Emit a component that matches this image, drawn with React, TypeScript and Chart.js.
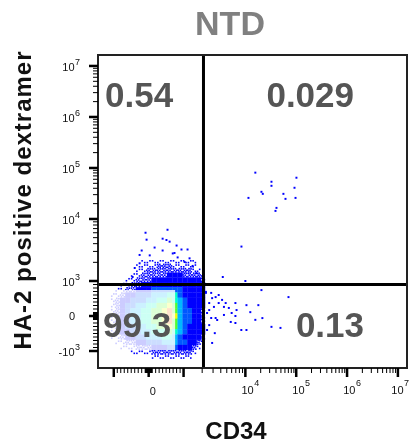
import React, { useEffect, useRef } from 'react';
import { Chart, registerables, LinearScale } from 'chart.js';

Chart.register(...registerables);

// ---------------- data ----------------
const TITLE = 'NTD';
const X_TITLE = 'CD34';
const Y_TITLE = 'HA-2 positive dextramer';

// quadrant frequencies (%): upper-left, upper-right, lower-left, lower-right
const quadrantLabels = ['0.54', '0.029', '99.3', '0.13'];

// quadrant gate position (fluorescence units)
const gateX = 2100;
const gateY = 900;

// axis ranges
const X_MIN = -1800;
const X_MAX = 15100000;
const Y_MIN = -1880;
const Y_MAX = 16400000;

// axis ticks
const xMajorTicks = [-1000, 0, 1000, 10000, 100000, 1000000, 10000000];
const xTickLabels = ['', '0', '', '10^4', '10^5', '10^6', '10^7'];
const yMajorTicks = [-1000, 0, 1000, 10000, 100000, 1000000, 10000000];
const yTickLabels = ['-10^3', '0', '10^3', '10^4', '10^5', '10^6', '10^7'];

// main population density (pseudocolor cells): cell centres and level 0-9
const cloudX = [-1350, -1200, -1050, -900, -750, -600, -450, -300, -150, 0, 150, 300, 450, 600, 750, 900, 1050, 1250, 1500, 1750, 2050];
const cloudY = [2050, 1750, 1500, 1250, 1050, 900, 750, 600, 450, 300, 150, 0, -150, -300, -450, -600, -750, -900, -1050, -1250];
const cloudDensity = [
  '000000001111111111100',
  '000000011112221111100',
  '000000011222222222110',
  '000000112222233322221',
  '000001122233333333332',
  '000011223333333333333',
  '000112233344444433333',
  '001123344455566433333',
  '001233444556676543333',
  '001234455667787543333',
  '001234556677897544332',
  '001234556677898544332',
  '001234556677897544332',
  '001234455667787543333',
  '001233445566676543333',
  '001123344555665433332',
  '000112233444555443321',
  '000011122233344333210',
  '000000111122222222100',
  '000000000011111111000',
];

// sparse events
const ulX = [-90, 540, -60, 400, 600, 170, 800, -200, 400, 940, 1160, 30, 690, 830, 1250, -260, 1610, -460, 510, -260, 740, 1040, -400, 1400];
const ulY = [6000, 6700, 4640, 4810, 4310, 3460, 3730, 3100, 3100, 3220, 3220, 2590, 2780, 2400, 2320, 1930, 1340, 1160, 4580, 2630, 2830, 2020, 1620, 1750];
const urX = [15700, 32600, 101000, 32600, 20700, 22000, 11500, 56000, 61500, 92500, 96900, 40900, 39100, 7740, 8640, 4310, 10000];
const urY = [81000, 53700, 64400, 44700, 34100, 31100, 25900, 31100, 24800, 40900, 25900, 16500, 14400, 10000, 3590, 1160, 1000];
const lrX = [2300, 2800, 3300, 3700, 2600, 3100, 4200, 4800, 5400, 6900, 7200, 10500, 2400, 2800, 3500, 4500, 6000, 6900, 8600, 10500, 12500, 15700, 18000, 20700, 21600, 32600, 49000, 70500, 2600, 3200, 2400, 2900, 2300, 2900, 3700, 4500, 6900, 5800, 2600, 3300];
const lrY = [690, 660, 540, 600, 370, 260, 460, 370, 230, 370, 170, 310, 86, -57, -114, 30, 86, -200, -400, -400, 110, -110, 310, 740, -60, -310, -340, 540, -260, -490, -400, -770, 660, 510, 370, 260, 0, -170, 170, -57];

// ---------------- biexponential-like scale ----------------
function biex(v: number): number {
  const a = Math.abs(v);
  const s = v < 0 ? -1 : 1;
  if (a <= 1000) return 0.035 * v;
  if (a <= 1e4) return s * (35 + 62 * Math.log10(a / 1000));
  return s * (97 + 51 * Math.log10(a / 1e4));
}
function biexInv(t: number): number {
  const a = Math.abs(t);
  const s = t < 0 ? -1 : 1;
  if (a <= 35) return t / 0.035;
  if (a <= 97) return s * 1000 * Math.pow(10, (a - 35) / 62);
  return s * 1e4 * Math.pow(10, (a - 97) / 51);
}

class BiexScale extends LinearScale {
  static id = 'biex';
  static defaults = {};
  _tMin = 0;
  _tMax = 1;
  configure() {
    super.configure();
    this._tMin = biex(this.min);
    this._tMax = biex(this.max);
  }
  getPixelForValue(value: number) {
    if (value === null || value === undefined || isNaN(value)) return NaN;
    return this.getPixelForDecimal((biex(value) - this._tMin) / (this._tMax - this._tMin));
  }
  getValueForPixel(pixel: number) {
    const t = this._tMin + this.getDecimalForPixel(pixel) * (this._tMax - this._tMin);
    return biexInv(t);
  }
}
Chart.register(BiexScale as any);

// ---------------- drawing helpers ----------------
const FONT = '"Liberation Sans", Arial, Helvetica, sans-serif';
const levelColors = ['', '#0000ff', '#0000ff', '#0000ff', '#0058ff', '#00b8ff', '#00ffc8', '#50ff30', '#f0ff00', '#ff7000'];
const dots1 = [[0.25, 0.3], [0.75, 0.72]];
const dots2 = [[0.2, 0.2], [0.62, 0.14], [0.42, 0.55], [0.86, 0.5], [0.15, 0.85], [0.7, 0.86]];

function cellEdges(p: number[]): [number, number][] {
  return p.map((v, i) => {
    const a = i > 0 ? (p[i - 1] + v) / 2 : v - (p[1] - p[0]) / 2;
    const b = i < p.length - 1 ? (p[i + 1] + v) / 2 : v + (v - p[i - 1]) / 2;
    return [Math.min(a, b), Math.max(a, b)];
  });
}

function minorTicks(): number[] {
  const out: number[] = [];
  for (let m = 1; m <= 9; m++) {
    out.push(m * 10, -m * 10, m * 100, -m * 100);
  }
  for (let n = 3; n <= 6; n++) {
    for (let m = 2; m <= 9; m++) {
      out.push(m * Math.pow(10, n), -m * Math.pow(10, n));
    }
  }
  return out;
}

function powWidth(ctx: CanvasRenderingContext2D, label: string) {
  const [base, exp] = label.split('^');
  ctx.font = `11px ${FONT}`;
  const wb = ctx.measureText(base).width;
  ctx.font = `9px ${FONT}`;
  const we = exp ? ctx.measureText(exp).width + 0.5 : 0;
  return { wb, we };
}

function drawPow(ctx: CanvasRenderingContext2D, label: string, left: number, yBase: number, yExp: number) {
  const [base, exp] = label.split('^');
  const { wb } = powWidth(ctx, label);
  ctx.textAlign = 'left';
  ctx.textBaseline = 'alphabetic';
  ctx.font = `11px ${FONT}`;
  ctx.fillText(base, left, yBase);
  if (exp) {
    ctx.font = `9px ${FONT}`;
    ctx.fillText(exp, left + wb + 0.5, yExp);
  }
}

const flowPlugin = {
  id: 'flowPlot',
  beforeDatasetsDraw(chart: any) {
    const { ctx, chartArea } = chart;
    const xs = chart.scales.x;
    const ys = chart.scales.y;
    const ex = cellEdges(cloudX.map((v) => xs.getPixelForValue(v)));
    const ey = cellEdges(cloudY.map((v) => ys.getPixelForValue(v)));
    ctx.save();
    ctx.beginPath();
    ctx.rect(chartArea.left, chartArea.top, chartArea.right - chartArea.left, chartArea.bottom - chartArea.top);
    ctx.clip();
    cloudDensity.forEach((row, r) => {
      for (let c = 0; c < row.length; c++) {
        const lvl = +row[c];
        if (!lvl) continue;
        const [x0, x1] = ex[c];
        const [y0, y1] = ey[r];
        const w = x1 - x0;
        const h = y1 - y0;
        if (lvl <= 2) {
          ctx.fillStyle = '#0000ff';
          const pat = lvl === 1 ? dots1 : dots2;
          const flip = (r + c) % 2 === 1;
          pat.forEach(([fx, fy]) => {
            const ux = flip ? 1 - fx : fx;
            ctx.fillRect(x0 + ux * w - 0.8, y0 + fy * h - 0.8, 1.6, 1.6);
          });
        } else {
          ctx.fillStyle = levelColors[lvl];
          ctx.fillRect(x0, y0, w + 0.3, h + 0.3);
        }
      }
    });
    ctx.restore();
  },
  afterDatasetsDraw(chart: any) {
    const { ctx, chartArea } = chart;
    const xs = chart.scales.x;
    const ys = chart.scales.y;
    const L = chartArea.left, R = chartArea.right, T = chartArea.top, B = chartArea.bottom;

    // quadrant labels with translucent boxes
    ctx.save();
    ctx.font = `bold 35px ${FONT}`;
    const specs: [string, number, number, 'left' | 'right'][] = [
      [quadrantLabels[0], L + 7, T + 52, 'left'],
      [quadrantLabels[1], R - 53, T + 52, 'right'],
      [quadrantLabels[2], L + 5, B - 31, 'left'],
      [quadrantLabels[3], R - 43, B - 31, 'right'],
    ];
    specs.forEach(([txt, x, y, align]) => {
      const w = ctx.measureText(txt).width;
      const left = align === 'left' ? x : x - w;
      ctx.fillStyle = 'rgba(255,255,255,0.8)';
      ctx.fillRect(left - 5, y - 47, w + 9, 60);
    });
    ctx.fillStyle = '#555555';
    ctx.textBaseline = 'alphabetic';
    specs.forEach(([txt, x, y, align]) => {
      ctx.textAlign = align;
      ctx.fillText(txt, x, y);
    });

    // gate lines
    const gx = xs.getPixelForValue(gateX);
    const gy = ys.getPixelForValue(gateY);
    ctx.strokeStyle = '#000';
    ctx.lineWidth = 3;
    ctx.beginPath();
    ctx.moveTo(gx, T);
    ctx.lineTo(gx, B);
    ctx.moveTo(L, gy);
    ctx.lineTo(R, gy);
    ctx.stroke();

    // frame
    ctx.lineWidth = 2;
    ctx.strokeStyle = '#222';
    ctx.strokeRect(L, T, R - L, B - T);
    ctx.restore();
  },
  afterDraw(chart: any) {
    const { ctx, chartArea } = chart;
    const xs = chart.scales.x;
    const ys = chart.scales.y;
    const L = chartArea.left, B = chartArea.bottom;
    const minors = minorTicks();
    ctx.save();
    ctx.fillStyle = '#000';
    // y ticks
    minors.forEach((v) => {
      if (v < ys.min || v > ys.max) return;
      const y = ys.getPixelForValue(v);
      ctx.fillRect(L - 5, y - 0.5, 5, 1);
    });
    yMajorTicks.forEach((v) => {
      const y = ys.getPixelForValue(v);
      ctx.fillRect(L - 9, y - 1.25, 9, 2.5);
    });
    // x ticks
    minors.forEach((v) => {
      if (v < xs.min || v > xs.max) return;
      const x = xs.getPixelForValue(v);
      ctx.fillRect(x - 0.5, B, 1, 5);
    });
    xMajorTicks.forEach((v) => {
      const x = xs.getPixelForValue(v);
      ctx.fillRect(x - 1.25, B, 2.5, 9);
    });

    // y tick labels
    ctx.fillStyle = '#111';
    yMajorTicks.forEach((v, i) => {
      const lab = yTickLabels[i];
      if (!lab) return;
      const y = ys.getPixelForValue(v);
      if (lab.includes('^')) {
        const { wb, we } = powWidth(ctx, lab);
        drawPow(ctx, lab, L - 18 - wb - we, y + 5, y - 1);
      } else {
        ctx.font = `11px ${FONT}`;
        ctx.textAlign = 'right';
        ctx.textBaseline = 'alphabetic';
        ctx.fillText(lab, L - 23, y + 4);
      }
    });
    // x tick labels
    xMajorTicks.forEach((v, i) => {
      const lab = xTickLabels[i];
      if (!lab) return;
      const x = xs.getPixelForValue(v);
      if (lab.includes('^')) {
        const { wb, we } = powWidth(ctx, lab);
        const total = wb + we;
        const left = Math.min(x + 5 - total / 2, chart.width - 2 - total);
        drawPow(ctx, lab, left, B + 26, B + 18);
      } else {
        ctx.font = `11px ${FONT}`;
        ctx.textAlign = 'left';
        ctx.textBaseline = 'alphabetic';
        ctx.fillText(lab, x + 1, B + 27);
      }
    });

    // title
    ctx.fillStyle = '#808080';
    ctx.font = `bold 34px ${FONT}`;
    ctx.textAlign = 'center';
    ctx.textBaseline = 'alphabetic';
    ctx.fillText(TITLE, 230, 35);

    // axis titles
    ctx.fillStyle = '#111';
    ctx.font = `bold 24px ${FONT}`;
    ctx.fillText(X_TITLE, 236, 439);
    ctx.save();
    ctx.translate(31, 200);
    ctx.rotate(-Math.PI / 2);
    (ctx as any).letterSpacing = '1px';
    ctx.fillText(Y_TITLE, 0, 0);
    ctx.restore();
    ctx.restore();
  },
};

function pts(xs: number[], ys: number[]) {
  return xs.map((x, i) => ({ x, y: ys[i] }));
}

export default function App() {
  const ref = useRef<HTMLCanvasElement>(null);
  useEffect(() => {
    const pointStyle = {
      pointStyle: 'rect' as const,
      pointRadius: 1.4,
      pointBackgroundColor: '#0000ff',
      pointBorderWidth: 0,
      showLine: false,
    };
    const chart = new Chart(ref.current as HTMLCanvasElement, {
      type: 'scatter',
      data: {
        datasets: [
          { label: 'UL', data: pts(ulX, ulY), ...pointStyle },
          { label: 'UR', data: pts(urX, urY), ...pointStyle },
          { label: 'LR', data: pts(lrX, lrY), ...pointStyle },
        ],
      },
      options: {
        animation: false,
        responsive: false,
        events: [],
        layout: { padding: { left: 98, top: 55, right: 3, bottom: 76 } },
        plugins: {
          legend: { display: false },
          tooltip: { enabled: false },
          title: { display: false },
        },
        scales: {
          x: { type: 'biex' as any, min: X_MIN, max: X_MAX, display: false, bounds: 'data' },
          y: { type: 'biex' as any, min: Y_MIN, max: Y_MAX, display: false, bounds: 'data' },
        },
      } as any,
      plugins: [flowPlugin],
    });
    return () => chart.destroy();
  }, []);
  return (
    <div style={{ position: 'absolute', left: 0, top: 0, width: 411, height: 444, background: '#fff' }}>
      <canvas ref={ref} width={411} height={444} style={{ display: 'block' }} />
    </div>
  );
}
